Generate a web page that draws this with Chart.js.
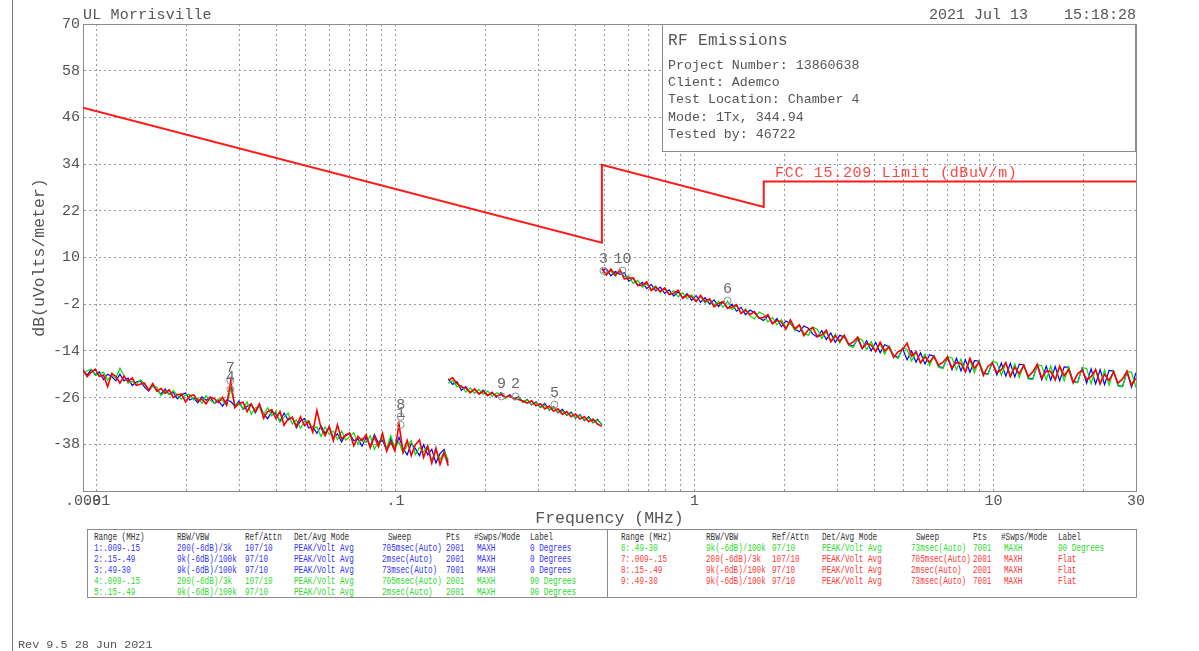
<!DOCTYPE html>
<html>
<head>
<meta charset="utf-8">
<title>RF Emissions</title>
<script src="https://cdn.jsdelivr.net/npm/chart.js@4.4.1/dist/chart.umd.min.js"></script>
<style>
  html, body { margin: 0; padding: 0; background: #fff; }
  #page {
    position: relative; width: 1199px; height: 651px; overflow: hidden;
    font-family: 'Liberation Mono', 'DejaVu Sans Mono', monospace; color: #555;
  }
  #chartBox { position: absolute; left: 0; top: 0; width: 1199px; height: 651px; }
  .abs { position: absolute; white-space: pre; line-height: 1; }
  #leftRule { position: absolute; left: 12px; top: 0; width: 1px; height: 651px; background: #808080; }
  #info {
    position: absolute; left: 662px; top: 24px; width: 474px; height: 128px;
    background: #fff; border: 1px solid #8c8c8c; box-sizing: border-box;
  }
  #table {
    position: absolute; left: 87px; top: 529px; width: 1050px; height: 69px;
    border: 1px solid #8c8c8c; box-sizing: border-box; background: #fff;
  }
  #tableDiv { position: absolute; left: 607px; top: 529px; width: 1px; height: 69px; background: #8c8c8c; }
  .cell { position: absolute; white-space: pre; line-height: 1; font-size: 10.5px;
          transform: scaleX(0.73); transform-origin: left center; }
</style>
</head>
<body>
<div id="page">
  <div id="leftRule"></div>
  <div id="chartBox"><canvas id="emiChart"></canvas></div>
  <div class="abs" style="left:83px; top:7.5px; font-size:15px; letter-spacing:0.2px;">UL Morrisville</div>
  <div class="abs" style="right:63px; top:7.5px; font-size:15px;">2021 Jul 13    15:18:28</div>
  <div id="info">
    <div class="abs" style="left:5px; top:8px; font-size:16px; letter-spacing:0.4px;">RF Emissions</div>
    <div class="abs" style="left:5px; top:32px; font-size:13.3px; line-height:17.2px;">Project Number: 13860638
Client: Ademco
Test Location: Chamber 4
Mode: 1Tx, 344.94
Tested by: 46722</div>
  </div>
  <div class="abs" style="left:775px; top:165.5px; font-size:15px; letter-spacing:0.7px; color:#ff4646;">FCC 15.209 Limit (dBuV/m)</div>
  <div id="table"></div>
  <div id="tableDiv"></div>
  <div id="cells"></div>
  <div class="abs" style="left:18px; top:640px; font-size:11.8px;">Rev 9.5 28 Jun 2021</div>
</div>

<script>
'use strict';

// ── Data ──────────────────────────────────────────────────────────────────────

// sweep ranges (MHz) for the three frequency bands
const band1 = [0.009, 0.15];
const band2 = [0.15, 0.49];
const band3 = [0.49, 30];

// trace levels, dB(uV/m)
const blue1 = [-19.0,-20.2,-18.8,-20.1,-19.4,-21.4,-20.0,-20.6,-21.7,-20.0,
  -21.7,-21.0,-22.9,-22.0,-21.7,-23.3,-24.3,-22.9,-24.0,-25.1,
  -23.8,-25.2,-24.7,-26.3,-25.3,-24.8,-26.6,-26.1,-27.3,-25.8,
  -26.7,-25.9,-27.5,-26.8,-28.2,-26.6,-27.0,-28.2,-26.9,-29.0,
  -28.2,-27.6,-29.9,-27.8,-30.2,-31.4,-29.6,-30.2,-32.1,-30.0,
  -31.8,-31.0,-33.8,-32.0,-31.4,-33.8,-33.5,-35.2,-33.3,-35.2,
  -33.6,-36.4,-35.3,-37.4,-35.5,-35.2,-37.1,-36.6,-38.5,-36.2,
  -38.6,-35.5,-37.7,-37.0,-39.5,-36.6,-39.2,-36.2,-39.1,-40.7,
  -37.8,-39.1,-40.9,-38.1,-40.7,-39.3,-42.8,-40.4,-39.3,-42.7];
const green1 = [-20.1,-19.1,-18.7,-20.3,-19.9,-19.5,-21.5,-20.1,-21.0,-18.4,
  -20.3,-22.3,-21.8,-22.7,-21.4,-22.6,-24.0,-23.1,-23.3,-25.5,
  -24.4,-25.2,-24.2,-25.4,-26.4,-25.3,-25.2,-26.6,-26.1,-27.5,
  -25.5,-26.7,-27.4,-26.3,-26.7,-28.0,-23.6,-27.8,-27.4,-28.9,
  -27.1,-30.3,-28.6,-28.5,-30.4,-28.6,-30.7,-29.5,-32.3,-31.1,
  -30.0,-32.8,-31.7,-33.9,-32.1,-32.0,-34.0,-33.5,-36.0,-33.5,
  -35.4,-34.6,-36.8,-34.6,-36.9,-36.1,-35.0,-38.1,-36.4,-37.5,
  -35.8,-39.3,-37.3,-36.5,-39.0,-35.8,-38.9,-37.4,-40.3,-38.3,
  -37.1,-40.7,-38.8,-40.0,-38.3,-42.5,-39.4,-41.9,-39.8,-42.0];
const red1 = [-18.8,-20.6,-19.5,-18.7,-20.6,-20.2,-23.2,-19.8,-20.5,-22.3,
  -20.5,-21.9,-20.9,-22.9,-22.5,-22.3,-24.1,-22.4,-24.4,-23.6,
  -24.9,-24.0,-26.0,-25.2,-25.1,-27.1,-25.6,-25.3,-26.8,-26.4,
  -27.6,-25.9,-26.3,-27.3,-25.9,-27.9,-21.8,-28.6,-27.5,-27.2,
  -29.6,-27.7,-29.6,-27.6,-31.3,-29.6,-29.1,-31.4,-29.6,-33.1,
  -31.4,-31.1,-33.4,-30.9,-33.2,-32.1,-34.9,-29.3,-33.8,-35.8,
  -33.4,-37.1,-33.0,-36.6,-35.8,-35.1,-38.4,-36.0,-37.1,-35.5,
  -38.9,-36.0,-38.6,-35.2,-39.8,-37.4,-39.7,-32.8,-40.0,-37.0,
  -40.9,-38.1,-36.9,-41.4,-38.5,-42.8,-39.0,-43.2,-40.1,-43.5];

const blue2 = [-21.2,-22.6,-21.9,-24.1,-23.2,-24.8,-23.7,-25.0,-24.1,-25.5,
  -24.6,-25.9,-24.7,-26.1,-25.2,-26.4,-25.7,-27.2,-26.5,-27.9,
  -27.1,-28.6,-27.5,-29.2,-28.3,-29.9,-29.0,-30.6,-29.7,-31.3,
  -30.4,-31.9,-30.9,-32.5,-31.6,-33.0];
const green2 = [-22.3,-21.6,-23.2,-22.9,-24.6,-23.5,-24.9,-23.9,-25.2,-24.3,
  -25.7,-24.8,-25.0,-26.2,-25.4,-26.6,-25.8,-27.0,-26.6,-27.8,
  -27.3,-28.4,-28.0,-29.1,-28.5,-29.8,-29.4,-30.5,-30.0,-31.1,
  -30.6,-31.7,-31.2,-32.4,-31.8,-32.9];
const red2 = [-21.5,-20.9,-22.4,-23.3,-23.5,-24.7,-23.8,-25.1,-24.4,-25.4,
  -24.8,-25.6,-25.2,-25.9,-25.5,-26.3,-26.5,-26.9,-27.4,-26.8,
  -28.1,-27.6,-28.9,-28.2,-29.5,-28.9,-30.3,-29.6,-30.9,-30.2,
  -31.5,-30.9,-32.2,-31.5,-32.8,-33.4];

const blue3 = [6.8,7.1,5.3,6.4,5.7,6.1,3.9,4.7,2.8,3.6,
  2.0,3.1,1.4,2.4,0.8,1.7,0.1,1.2,-0.4,0.7,
  -1.0,0.2,-1.5,-0.3,-2.0,-0.9,-2.6,-1.4,-3.1,-2.0,
  -3.8,-2.8,-4.7,-3.5,-4.2,-5.5,-6.2,-5.0,-7.0,-5.7,
  -7.8,-6.3,-7.0,-8.4,-9.1,-7.6,-8.2,-9.7,-10.5,-8.8,
  -11.1,-9.4,-11.8,-10.0,-10.4,-12.3,-12.8,-10.9,-13.4,-11.4,
  -14.0,-11.8,-14.5,-12.4,-12.9,-15.1,-15.7,-13.4,-16.3,-14.0,
  -16.9,-14.5,-17.4,-15.0,-15.4,-18.0,-18.3,-15.7,-18.8,-15.9,
  -19.1,-16.3,-19.5,-16.5,-16.6,-19.7,-19.9,-16.9,-20.2,-17.1,
  -20.5,-17.2,-20.7,-17.4,-17.6,-21.0,-21.2,-17.7,-21.4,-17.9,
  -21.5,-18.0,-21.7,-18.1,-18.2,-21.9,-22.1,-18.4,-22.3,-18.6,
  -22.5,-18.8,-22.7,-19.0,-19.2,-22.9,-23.1,-19.4,-23.3,-19.6];
const green3 = [6.2,5.8,6.5,5.2,6.9,5.0,5.2,3.3,4.1,2.4,
  3.3,1.8,2.7,1.0,2.1,0.5,1.5,-0.1,0.9,-0.6,
  0.4,-1.1,-0.1,-1.7,-0.6,-2.2,-1.2,-2.8,-1.2,-3.4,
  -2.4,-4.2,-3.2,-5.0,-5.8,-4.0,-4.6,-6.6,-5.4,-7.3,
  -6.0,-8.0,-6.7,-8.8,-7.3,-9.4,-10.0,-7.9,-8.5,-10.8,
  -9.1,-11.4,-9.7,-12.0,-10.1,-12.6,-13.1,-10.6,-11.2,-13.7,
  -11.6,-14.2,-12.1,-14.8,-12.7,-15.3,-16.0,-13.1,-13.7,-16.6,
  -14.3,-17.1,-14.8,-17.8,-15.2,-18.2,-18.5,-15.5,-15.8,-18.9,
  -16.1,-19.3,-16.4,-19.6,-16.6,-19.8,-20.1,-16.7,-17.0,-20.3,
  -17.1,-20.6,-17.3,-20.8,-17.6,-21.2,-21.3,-17.6,-17.8,-21.5,
  -17.9,-21.6,-18.1,-21.7,-18.1,-22.0,-22.2,-18.3,-18.5,-22.4,
  -18.7,-22.6,-18.9,-22.8,-19.1,-23.0,-23.2,-19.3,-19.5,-23.4];
const red3 = [7.2,5.5,7.0,5.5,6.8,4.5,4.7,4.7,2.8,2.9,
  3.7,1.5,2.4,1.3,2.2,0.5,0.8,1.6,-0.5,0.3,
  -0.1,-1.3,0.3,-1.3,-0.7,-2.7,-1.8,-1.3,-3.0,-2.8,
  -2.1,-4.4,-3.5,-4.7,-3.9,-5.6,-5.4,-4.7,-7.0,-6.2,
  -6.6,-8.4,-6.0,-8.3,-7.3,-10.1,-8.6,-8.0,-10.3,-9.9,
  -8.7,-11.7,-10.1,-11.5,-10.0,-12.4,-11.7,-10.4,-13.4,-12.1,
  -12.5,-14.2,-11.8,-14.0,-13.0,-15.7,-14.2,-13.6,-12.0,-15.4,
  -14.2,-17.1,-15.5,-16.9,-15.4,-17.7,-16.9,-15.5,-18.4,-17.0,
  -17.2,-19.4,-15.9,-18.5,-16.9,-20.3,-18.0,-17.1,-19.6,-18.8,
  -17.0,-20.6,-18.2,-19.8,-17.7,-20.6,-19.4,-17.4,-21.0,-19.2,
  -19.3,-21.4,-17.9,-20.4,-18.8,-22.2,-19.9,-18.9,-21.4,-20.6,
  -18.8,-22.4,-20.0,-21.6,-19.4,-22.3,-21.2,-19.2,-22.8,-21.0];

// FCC 15.209 limit line
const limitFreqs = [0.009, 0.49, 0.49, 1.705, 1.705, 30];
const limitVals  = [48.5, 13.8, 33.8, 23.0, 29.5, 29.5];

// markers
const markerFreqs  = [0.028, 0.028, 0.104, 0.104, 0.226, 0.252, 0.340, 0.496, 0.574, 1.29];
const markerVals   = [-21.6, -23.9, -30.9, -33.0, -25.7, -25.7, -27.8, 6.6, 6.6, -1.1];
const markerLabels = ['7', '4', '8', '1', '9', '2', '5', '3', '10', '6'];

// axes
const gridFreqs = [0.009, 0.01, 0.02, 0.03, 0.04, 0.05, 0.06, 0.07, 0.08, 0.09,
  0.1, 0.2, 0.3, 0.4, 0.5, 0.6, 0.7, 0.8, 0.9,
  1, 2, 3, 4, 5, 6, 7, 8, 9, 10, 20, 30];
const xTickText = { 0.009: '.009', 0.01: '.01', 0.1: '.1', 1: '1', 10: '10', 30: '30' };
const yMin = -50, yMax = 70, yStep = 12;

// settings table
const tableHead = ['Range (MHz)', 'RBW/VBW', 'Ref/Attn', 'Det/Avg Mode', 'Sweep', 'Pts', '#Swps/Mode', 'Label'];
const tableRows = [
  ['1:.009-.15', '200(-6dB)/3k',  '107/10', 'PEAK/Volt Avg', '705msec(Auto)', '2001', 'MAXH', '0 Degrees'],
  ['2:.15-.49',  '9k(-6dB)/100k', '97/10',  'PEAK/Volt Avg', '2msec(Auto)',   '2001', 'MAXH', '0 Degrees'],
  ['3:.49-30',   '9k(-6dB)/100k', '97/10',  'PEAK/Volt Avg', '73msec(Auto)',  '7001', 'MAXH', '0 Degrees'],
  ['4:.009-.15', '200(-6dB)/3k',  '107/10', 'PEAK/Volt Avg', '705msec(Auto)', '2001', 'MAXH', '90 Degrees'],
  ['5:.15-.49',  '9k(-6dB)/100k', '97/10',  'PEAK/Volt Avg', '2msec(Auto)',   '2001', 'MAXH', '90 Degrees'],
  ['6:.49-30',   '9k(-6dB)/100k', '97/10',  'PEAK/Volt Avg', '73msec(Auto)',  '7001', 'MAXH', '90 Degrees'],
  ['7:.009-.15', '200(-6dB)/3k',  '107/10', 'PEAK/Volt Avg', '705msec(Auto)', '2001', 'MAXH', 'Flat'],
  ['8:.15-.49',  '9k(-6dB)/100k', '97/10',  'PEAK/Volt Avg', '2msec(Auto)',   '2001', 'MAXH', 'Flat'],
  ['9:.49-30',   '9k(-6dB)/100k', '97/10',  'PEAK/Volt Avg', '73msec(Auto)',  '7001', 'MAXH', 'Flat'],
];
const rowColors = ['#3434ff', '#3434ff', '#3434ff', '#2fd82f', '#2fd82f', '#2fd82f', '#ff3838', '#ff3838', '#ff3838'];

// ── Table ─────────────────────────────────────────────────────────────────────

function buildTable() {
  const host = document.getElementById('cells');
  const halves = [
    { cols: [93.5, 177, 245, 293.5, 382, 445.5, 477, 529.5], head: [93.5, 177, 245, 293.5, 387.5, 445.5, 474, 529.5], rows: [0, 1, 2, 3, 4] },
    { cols: [620.5, 705.5, 771.5, 821.5, 911, 972.5, 1004, 1057.5], head: [620.5, 705.5, 771.5, 821.5, 916, 972.5, 1001, 1057.5], rows: [5, 6, 7, 8] },
  ];
  const put = (txt, x, cy, color) => {
    const el = document.createElement('div');
    el.className = 'cell';
    el.textContent = txt;
    el.style.left = x + 'px';
    el.style.top = (cy - 4.6) + 'px';
    el.style.color = color;
    host.appendChild(el);
  };
  halves.forEach(h => {
    tableHead.forEach((t, c) => put(t, h.head[c], 536.6, '#333'));
    h.rows.forEach((r, k) => {
      tableRows[r].forEach((t, c) => put(t, h.cols[c], 547.8 + k * 11, rowColors[r]));
    });
  });
}

// ── Chart ─────────────────────────────────────────────────────────────────────

function sweep(band, vals) {
  const [f0, f1] = band;
  const k = Math.log(f1 / f0) / (vals.length - 1);
  return vals.map((v, i) => ({ x: f0 * Math.exp(k * i), y: v }));
}

const overlayPlugin = {
  id: 'overlay',
  afterDatasetsDraw(chart) {
    const { ctx, chartArea: a, scales: { x, y } } = chart;
    ctx.save();
    ctx.strokeStyle = '#8c8c8c';
    ctx.lineWidth = 1;
    ctx.beginPath();
    ctx.moveTo(a.left, a.top + 0.5);
    ctx.lineTo(a.right + 1, a.top + 0.5);
    ctx.moveTo(a.right + 0.5, a.top);
    ctx.lineTo(a.right + 0.5, a.bottom);
    ctx.stroke();
    ctx.fillStyle = '#6a6a6a';
    ctx.font = '15px "Liberation Mono"';
    ctx.textAlign = 'center';
    ctx.textBaseline = 'middle';
    markerLabels.forEach((t, i) => {
      ctx.fillText(t, x.getPixelForValue(markerFreqs[i]), y.getPixelForValue(markerVals[i]) - 12);
    });
    ctx.restore();
  }
};

function renderChart() {
  const traces = [
    { color: '#ff0000', order: 1, width: 1.6, parts: [[band1, red1], [band2, red2], [band3, red3]] },
    { color: '#00e000', order: 2, width: 1.2, parts: [[band1, green1], [band2, green2], [band3, green3]] },
    { color: '#0000ff', order: 3, width: 1.2, parts: [[band1, blue1], [band2, blue2], [band3, blue3]] },
  ];
  const datasets = [];
  traces.forEach(t => t.parts.forEach(([band, vals]) => datasets.push({
    data: sweep(band, vals),
    borderColor: t.color,
    borderWidth: t.width,
    pointRadius: 0,
    tension: 0,
    order: t.order,
  })));
  datasets.push({
    data: limitFreqs.map((f, i) => ({ x: f, y: limitVals[i] })),
    borderColor: '#ff1a1a',
    borderWidth: 2,
    pointRadius: 0,
    tension: 0,
    order: 0,
  });
  datasets.push({
    data: markerFreqs.map((f, i) => ({ x: f, y: markerVals[i] })),
    showLine: false,
    pointRadius: 3.5,
    pointBorderWidth: 1,
    pointBorderColor: '#909090',
    pointBackgroundColor: 'rgba(255,255,255,0)',
    order: -1,
  });

  Chart.defaults.font.family = '"Liberation Mono", "DejaVu Sans Mono", monospace';
  Chart.defaults.color = '#555';

  new Chart(document.getElementById('emiChart'), {
    type: 'line',
    data: { datasets },
    plugins: [overlayPlugin],
    options: {
      responsive: true,
      maintainAspectRatio: false,
      animation: false,
      layout: { padding: { top: 24, right: 63, bottom: 120, left: 0 } },
      plugins: { legend: { display: false }, tooltip: { enabled: false } },
      scales: {
        x: {
          type: 'logarithmic',
          min: 0.009,
          max: 30,
          afterBuildTicks: s => { s.ticks = gridFreqs.map(v => ({ value: v })); },
          afterFit: s => { s.height = 40; },
          grid: { color: '#9a9a9a', drawTicks: false },
          border: { color: '#8c8c8c', dash: [2, 3] },
          ticks: {
            autoSkip: false, maxRotation: 0, padding: 1,
            font: { size: 15 }, color: '#555',
            callback: v => xTickText[v] || '',
          },
          title: {
            display: true, text: 'Frequency (MHz)', color: '#555',
            font: { size: 16.5 }, padding: { top: 0, bottom: 2 },
          },
        },
        y: {
          min: yMin,
          max: yMax,
          afterFit: s => { s.width = 83; },
          grid: { color: '#9a9a9a', drawTicks: false },
          border: { color: '#8c8c8c', dash: [2, 3] },
          ticks: {
            stepSize: yStep, padding: 3,
            font: { size: 15 }, color: '#555',
            callback: v => v === yMin ? '' : v,
          },
          title: {
            display: true, text: 'dB(uVolts/meter)', color: '#555',
            font: { size: 16.5 }, padding: { top: 30, bottom: 0 },
          },
        },
      },
    },
  });
}

buildTable();
renderChart();
</script>
</body>
</html>
